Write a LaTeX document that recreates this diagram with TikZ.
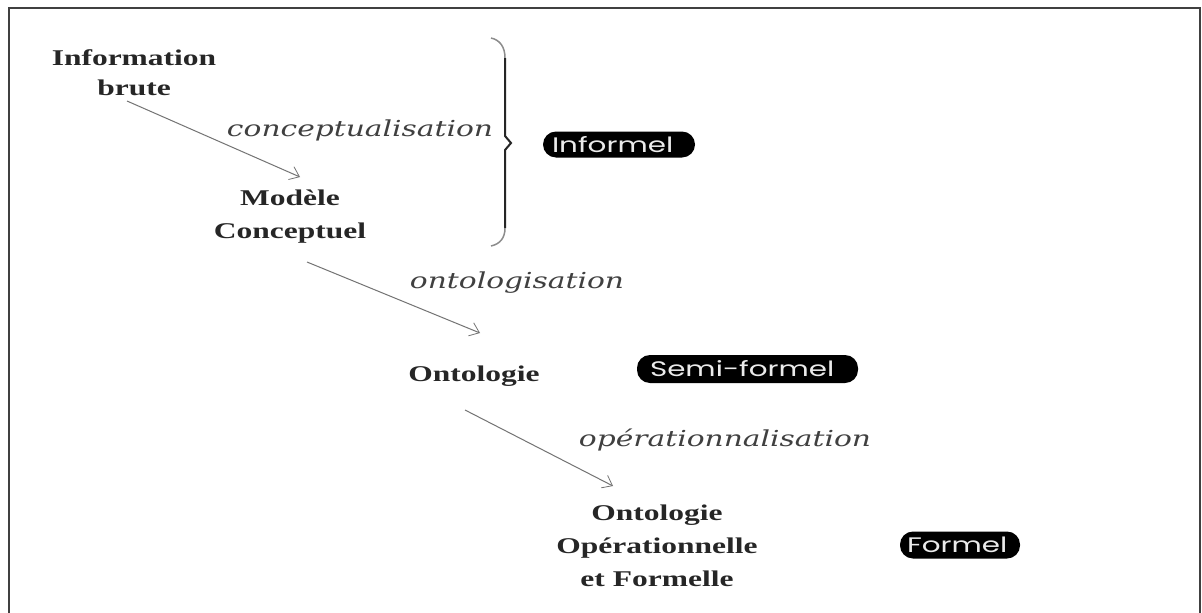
\documentclass[tikz,border=0pt]{standalone}
\usepackage{fontspec}
\setmainfont{Liberation Serif}
\newfontfamily\boldwide[FakeStretch=1.4]{Liberation Serif}
\newfontfamily\itfont[FakeStretch=1.35]{DejaVu Serif}
\newfontfamily\pillfont[FakeStretch=1.4]{Poppins}
\usetikzlibrary{calc,arrows.meta}
\tikzset{
  term/.style={font=\fontsize{22.5}{30}\selectfont\boldwide\bfseries, align=center, inner sep=0pt, text=black!85},
  proc/.style={font=\fontsize{22}{26}\selectfont\itfont\itshape, inner sep=0pt, text=black!75},
  pill/.style={fill=black, text=white!92!black, rounded corners=13pt, inner sep=0pt, align=left, font=\fontsize{21}{24}\selectfont\pillfont},
  arr/.style={draw=black!55, line width=1pt, -{Straight Barb[length=9pt,width=14pt,line width=0.8pt]}},
  frame/.style={draw=black!75, line width=2pt}
}
\begin{document}
\begin{tikzpicture}[x=1pt,y=-1pt]
\useasboundingbox (0,0) rectangle (1202,613);
\fill[white] (0,0) rectangle (1202,613);
\draw[frame] (9,620) -- (9,8) -- (1200,8) -- (1200,620);

\node[term] (ib) at (134,73) {Information\\brute};
\node[term,font=\fontsize{22.5}{33}\selectfont\boldwide\bfseries] (mc) at (290,217) {Modèle\\Conceptuel};
\node[term] (on) at (474,376) {Ontologie};
\node[term,font=\fontsize{22.5}{33}\selectfont\boldwide\bfseries] (oof) at (657,546) {Ontologie\\Opérationnelle\\et Formelle};

\node[proc] (l1) at (360,130) {conceptualisation};
\node[proc] (l2) at (517,283) {ontologisation};
\node[proc] (l3) at (725,440) {opérationnalisation};

\node[pill, minimum width=152pt, minimum height=26pt, text width=134pt] (p1) at (619,144.5) {Informel};
\node[pill, minimum width=221pt, minimum height=28pt, text width=195pt] (p2) at (747.5,369) {Semi-formel};
\node[pill, minimum width=120pt, minimum height=27pt, text width=106pt] (p3) at (960,545) {Formel};

\draw[arr] ($(ib)+(-7,28)$) -- ($(mc)+(10,-40)$);
\draw[arr] ($(mc)+(17,45)$) -- ($(on)+(6,-43)$);
\draw[arr] ($(on)+(-9,34)$) -- ($(oof)+(-44,-60)$);

\draw[black!45, line width=1.5pt] (491,38) .. controls (500,40) and (505,47) .. (505,58);
\draw[black!85, line width=2pt] (505,58) -- (505,136) -- (511,143) -- (505,150) -- (505,228);
\draw[black!45, line width=1.5pt] (505,228) .. controls (505,238) and (500,244) .. (491,246);
\end{tikzpicture}
\end{document}
